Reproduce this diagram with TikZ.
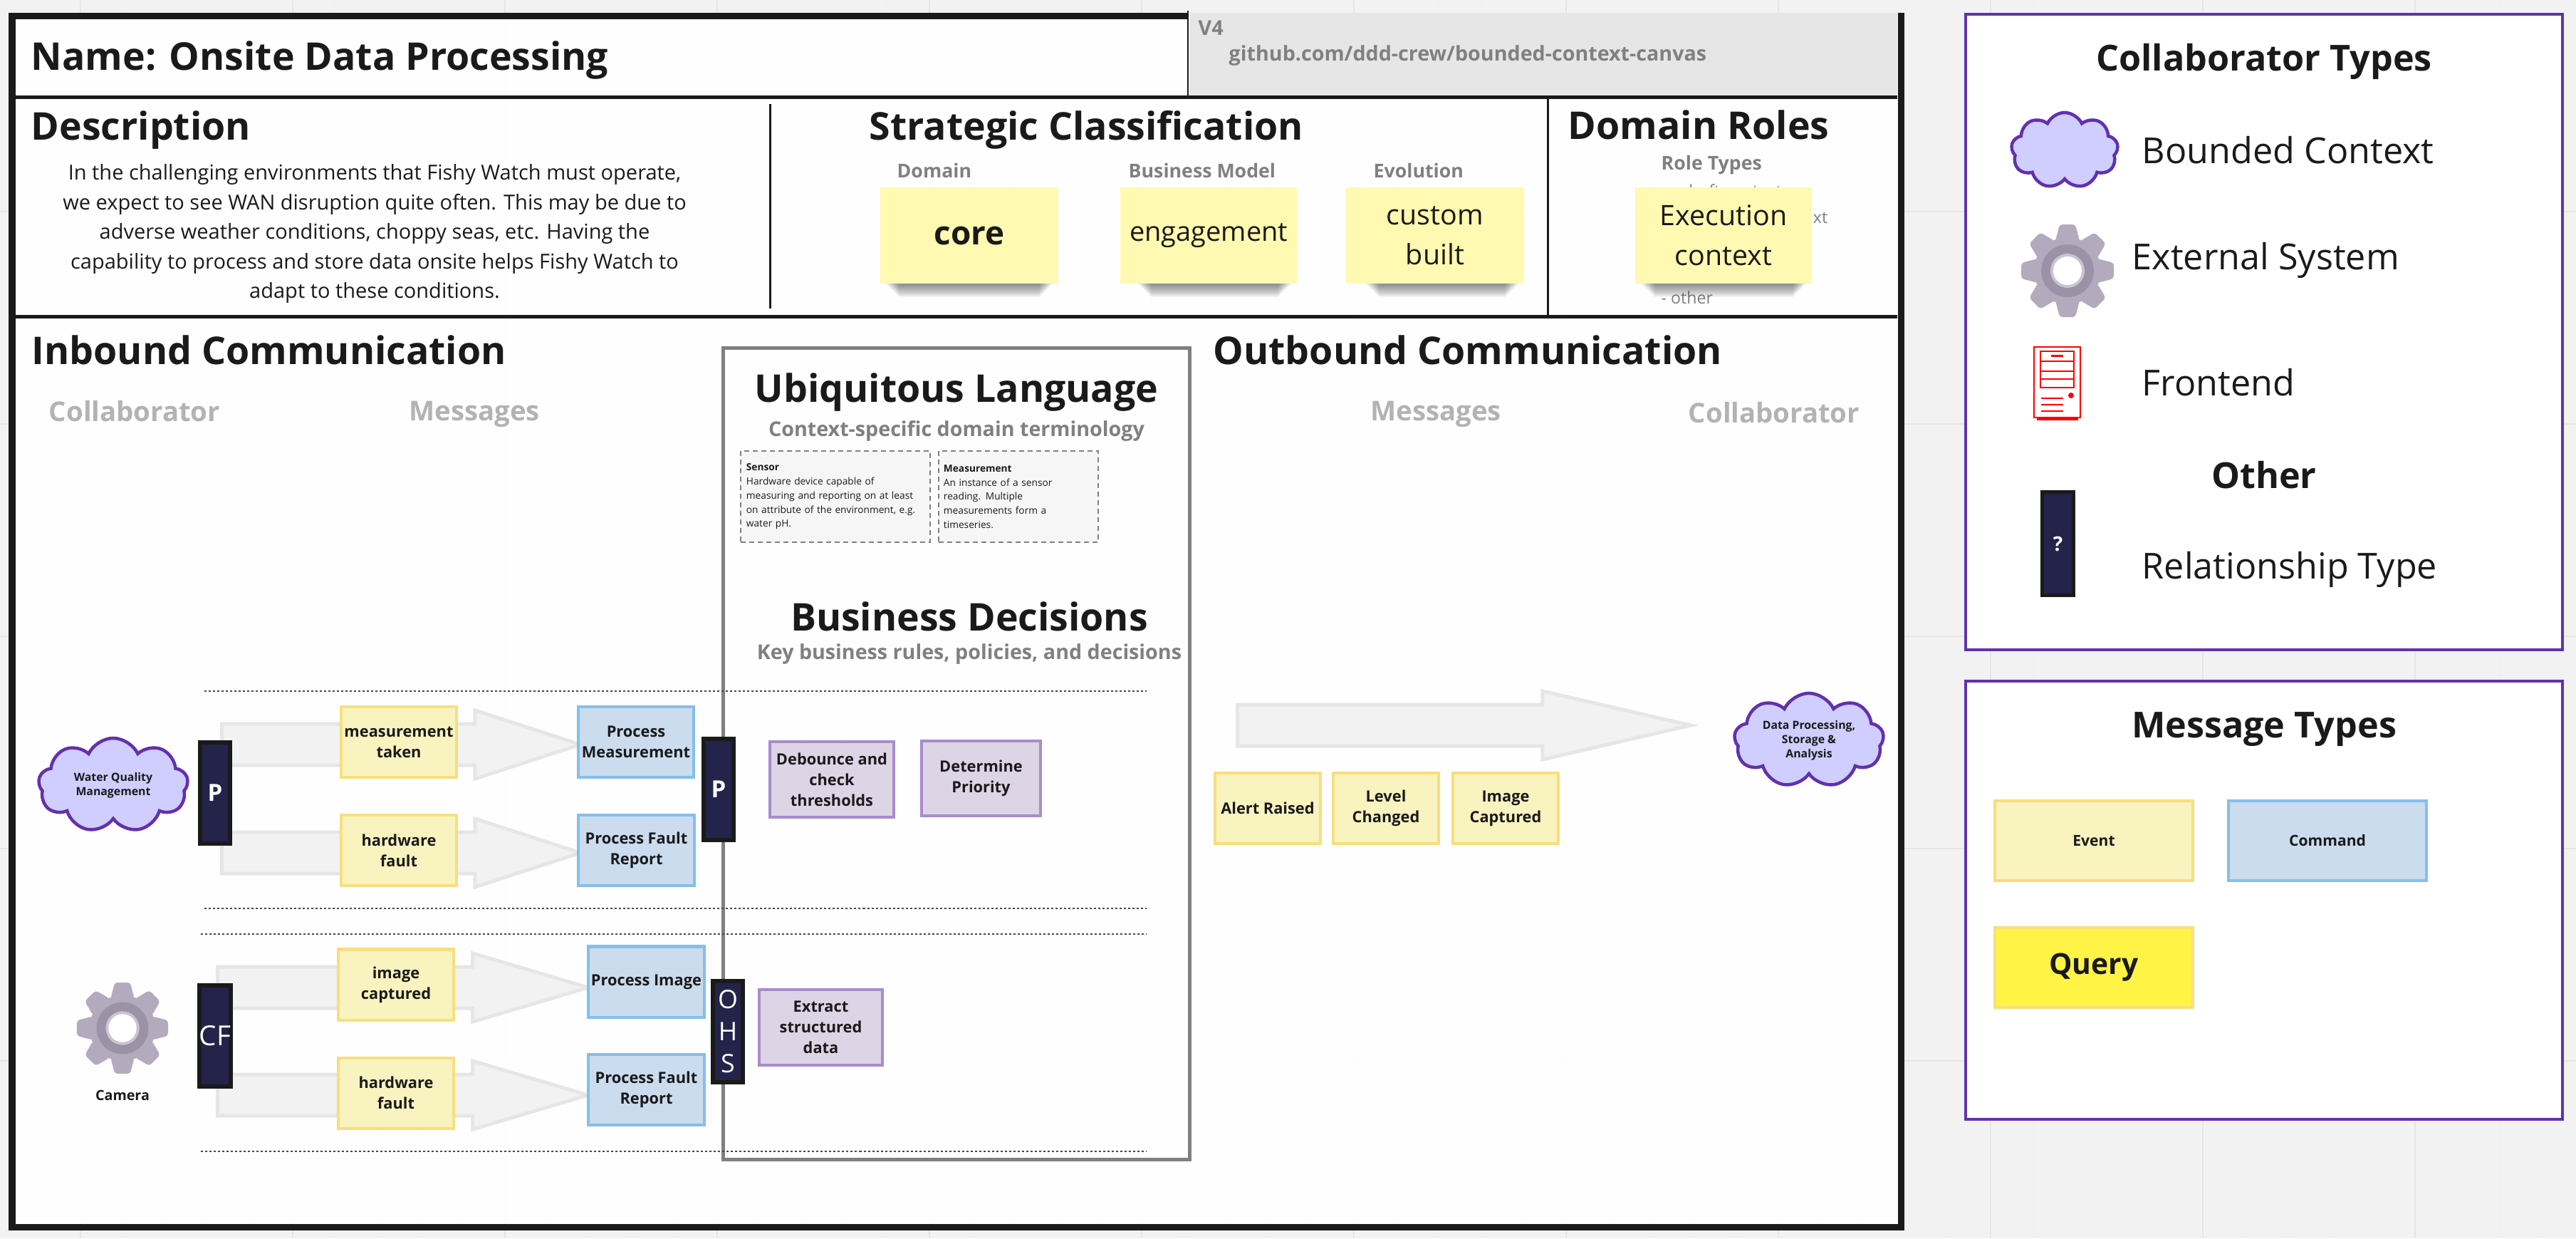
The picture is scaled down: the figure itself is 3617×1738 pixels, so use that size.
\documentclass[tikz,border=0pt]{standalone}
\usepackage{fontspec}
\setmainfont{Open Sans}
\usetikzlibrary{shapes.symbols,shapes.arrows}

\definecolor{inkblack}{HTML}{1A1A1A}
\definecolor{boardgray}{HTML}{F2F2F2}
\definecolor{gridgray}{HTML}{E6E6E6}
\definecolor{midgray}{HTML}{808080}
\definecolor{softgray}{HTML}{B3B3B3}
\definecolor{stickyyellow}{HTML}{FFF9B1}
\definecolor{eventfill}{HTML}{F9F3C0}
\definecolor{eventline}{HTML}{F9DE7C}
\definecolor{commandfill}{HTML}{CBDCEE}
\definecolor{commandline}{HTML}{86BEEA}
\definecolor{decisionfill}{HTML}{DDD4E6}
\definecolor{decisionline}{HTML}{A98BCB}
\definecolor{queryfill}{HTML}{FFF445}
\definecolor{tagnavy}{HTML}{24234A}
\definecolor{cloudfill}{HTML}{CFCEFF}
\definecolor{legendpurple}{HTML}{6231AE}
\definecolor{gearlight}{HTML}{B3ABBD}
\definecolor{geardark}{HTML}{9C92A8}

\tikzset{
    headtext/.style={anchor=west, inner sep=0pt, text=inkblack, font=\bfseries\fontsize{15.25}{18}\selectfont},
    subtext/.style={inner sep=0pt, text=midgray, font=\bfseries\fontsize{8.15}{10}\selectfont},
    labeltext/.style={anchor=west, inner sep=0pt, text=midgray, font=\bfseries\fontsize{7.6}{9}\selectfont},
    columntext/.style={inner sep=0pt, text=softgray, font=\bfseries\fontsize{10.9}{13}\selectfont},
    legendtext/.style={anchor=west, inner sep=0pt, text=inkblack, font=\fontsize{14.3}{18}\selectfont},
    legendhead/.style={inner sep=0pt, text=inkblack, font=\bfseries\fontsize{14.3}{17}\selectfont},
    hiddentext/.style={inner sep=0pt, text=midgray, font=\fontsize{6.6}{8}\selectfont},
    stickybox/.style={fill=stickyyellow, minimum height=1.35cm, inner sep=0pt, align=center, text=inkblack, font=\fontsize{11.2}{15.8}\selectfont},
    messagebox/.style={line width=.04cm, minimum width=1.62cm, minimum height=.99cm, inner sep=0pt, align=center, text=inkblack, font=\bfseries\fontsize{6.2}{8.2}\selectfont},
    eventbox/.style={messagebox, fill=eventfill, draw=eventline},
    commandbox/.style={messagebox, fill=commandfill, draw=commandline},
    decisionbox/.style={messagebox, fill=decisionfill, draw=decisionline},
    reltag/.style={fill=tagnavy, draw=inkblack, line width=.06cm, minimum width=.42cm, minimum height=1.42cm, inner sep=0pt, align=center, text=white},
    ctxcloud/.style={cloud, cloud puffs=9, cloud puff arc=130, draw=legendpurple, fill=cloudfill, line width=.045cm, minimum width=2.1cm, minimum height=1.32cm, aspect=1.58, inner sep=0pt},
    cloudtext/.style={align=center, text=inkblack, font=\bfseries\fontsize{4.5}{5.7}\selectfont},
    flowarrow/.style={single arrow, anchor=tail, fill=boardgray, draw=gridgray, line width=.05cm, inner xsep=0pt, inner ysep=.265cm, single arrow head extend=.19cm, single arrow tip angle=36},
    termbox/.style={fill=boardgray!70, draw=midgray, line width=.015cm, dash pattern=on .07cm off .05cm, minimum height=1.28cm, inner xsep=.065cm, inner ysep=0pt, align=left, text=inkblack, font=\fontsize{3.9}{5.6}\selectfont},
    legendframe/.style={fill=white, draw=legendpurple, line width=.045cm},
    framerule/.style={draw=inkblack},
    rowrule/.style={inkblack!80, line width=.015cm, dash pattern=on .03cm off .03cm},
    gearicon/.pic={
        \foreach \a in {0,45,...,315}
            \fill[gearlight, rotate=\a, rounded corners=.04cm] (-17,-42) -- (-11,-65) -- (11,-65) -- (17,-42) -- cycle;
        \fill[gearlight] (0,0) circle (47);
        \fill[geardark] (0,0) circle (37);
        \fill[gearlight!70] (0,0) circle (24);
        \fill[white] (0,0) circle (20);
    }
}

\begin{document}
\begin{tikzpicture}[x=.01cm, y=-.01cm]
    \useasboundingbox (0,0) rectangle (3617,1738);

    % board
    \fill[boardgray] (0,0) rectangle (3617,1738);
    \foreach \x in {113,411,...,3600} {
        \draw[gridgray!60, line width=.01cm] (\x+59.6,0) -- (\x+59.6,1738);
        \draw[gridgray!60, line width=.01cm] (\x+119.2,0) -- (\x+119.2,1738);
        \draw[gridgray!60, line width=.01cm] (\x+178.8,0) -- (\x+178.8,1738);
        \draw[gridgray!60, line width=.01cm] (\x+238.4,0) -- (\x+238.4,1738);
        \draw[gridgray, line width=.015cm] (\x,0) -- (\x,1738);
    }
    \foreach \y in {-1,297,...,1738}
        \draw[gridgray, line width=.015cm] (0,\y) -- (3617,\y);

    % canvas frame
    \fill[white, opacity=.93] (17,22) rectangle (2669,1722);
    \fill[gridgray] (1670,18) rectangle (2664,134);
    \draw[framerule, line width=.09cm] (1668,22) -- (17,22) -- (17,1722) -- (2669,1722) -- (2669,18);
    \draw[framerule, line width=.05cm] (12,136) -- (2664,136);
    \draw[framerule, line width=.05cm] (12,444) -- (2664,444);
    \draw[framerule, line width=.025cm] (1668,15) -- (1668,134);
    \draw[framerule, line width=.03cm] (1081,146) -- (1081,433);
    \draw[framerule, line width=.03cm] (2173,136) -- (2173,444);

    % heading row
    \node[headtext] (nameTitle) at (43,85) {Name: Onsite Data Processing};
    \node[subtext, anchor=west] (versionText) at (1682,39) {V4};
    \node[subtext, anchor=west] (repoText) at (1725,78) {github.com/ddd-crew/bounded-context-canvas};

    % description
    \node[headtext] (descTitle) at (43,183) {Description};
    \node[align=center, inner sep=0pt, text=inkblack, font=\fontsize{8.25}{11.8}\selectfont] (descText) at (526,328) {In the challenging environments that Fishy Watch must operate,\\we expect to see WAN disruption quite often. This may be due to\\adverse weather conditions, choppy seas, etc. Having the\\capability to process and store data onsite helps Fishy Watch to\\adapt to these conditions.};

    % strategic classification
    \node[headtext] (strategicTitle) at (1220,182) {Strategic Classification};
    \node[labeltext] (domainLabel) at (1259,239) {Domain};
    \node[labeltext] (modelLabel) at (1584,239) {Business Model};
    \node[labeltext] (evolutionLabel) at (1928,239) {Evolution};

    % domain roles
    \node[headtext] (rolesTitle) at (2201,175) {Domain Roles};
    \node[labeltext] (roleLabel) at (2332,232) {Role Types};
    \node[hiddentext, anchor=west] (roleDraft) at (2349,268) {- draft context};
    \node[hiddentext, anchor=east] (roleCut) at (2567,306) {xt};
    \node[hiddentext, anchor=west] (roleOther) at (2332,418) {- other};

    % sticky shadows
    \foreach \a/\b in {1236/1486,1590/1821,1910/2140,2297/2544}
        \foreach \k in {0,...,9}
            \fill[black, opacity=.055] (\a+8+2*\k,394) rectangle (\b-8-2*\k,399+2*\k);

    \node[stickybox, minimum width=2.5cm, font=\bfseries\fontsize{13}{16}\selectfont] (coreNote) at (1361,330.5) {core};
    \node[stickybox, minimum width=2.48cm, font=\fontsize{10.8}{15}\selectfont, text depth=.1cm] (modelNote) at (1697,330.5) {engagement};
    \node[stickybox, minimum width=2.49cm] (evolutionNote) at (2015,330.5) {custom\\built};
    \node[stickybox, minimum width=2.47cm] (roleNote) at (2420,330.5) {Execution\\context};

    % inbound and outbound headings
    \node[headtext] (inboundTitle) at (44,491) {Inbound Communication};
    \node[headtext] (outboundTitle) at (1703,491) {Outbound Communication};
    \node[columntext] (collabIn) at (189,577) {Collaborator};
    \node[columntext] (messagesIn) at (666,581) {Messages};
    \node[columntext] (messagesOut) at (2016,581) {Messages};
    \node[columntext] (collabOut) at (2491,579) {Collaborator};

    % language and decisions box
    \draw[midgray, line width=.05cm] (1015,488) rectangle (1670,1627);
    \node[headtext, anchor=center] (languageTitle) at (1343,551) {Ubiquitous Language};
    \node[subtext] (languageSub) at (1343,605) {Context-specific domain terminology};
    \node[termbox, minimum width=2.66cm, text width=2.5cm] (sensorTerm) at (1173,697) {{\bfseries Sensor}\\Hardware device capable of\\measuring and reporting on at least\\on attribute of the environment, e.g.\\water pH.};
    \node[termbox, minimum width=2.24cm, text width=2.1cm] (measureTerm) at (1430,697) {{\bfseries Measurement}\\An instance of a sensor\\reading. Multiple\\measurements form a\\timeseries.};
    \node[headtext, anchor=center] (decisionTitle) at (1361,865) {Business Decisions};
    \node[subtext] (decisionSub) at (1361,918) {Key business rules, policies, and decisions};

    % row separators
    \draw[rowrule] (287,970) -- (1610,970);
    \draw[rowrule] (287,1275) -- (1610,1275);
    \draw[rowrule] (282,1311) -- (1610,1311);
    \draw[rowrule] (282,1616) -- (1610,1616);

    % message arrows
    \node[flowarrow, minimum height=5.03cm] (flowMeasure) at (309,1045) {};
    \node[flowarrow, minimum height=5.03cm] (flowFaultA) at (309,1197) {};
    \node[flowarrow, minimum height=5.2cm, single arrow tip angle=33] (flowImage) at (303,1386) {};
    \node[flowarrow, minimum height=5.2cm, single arrow tip angle=33] (flowFaultB) at (303,1537) {};
    \node[flowarrow, minimum height=6.36cm, single arrow tip angle=26] (flowOut) at (1735,1018) {};

    % water quality row
    \node[ctxcloud, label={[cloudtext]center:Water Quality\\Management}] (waterCloud) at (159,1102) {};
    \node[reltag, font=\bfseries\fontsize{9.4}{11}\selectfont] (tagSupplier) at (302,1113) {P};
    \node[eventbox] (measureEvent) at (560,1041.5) {measurement\\taken};
    \node[eventbox] (faultEventA) at (560,1193.5) {hardware\\fault};
    \node[commandbox] (measureCommand) at (893,1041.5) {Process\\Measurement};
    \node[commandbox] (faultCommandA) at (893.5,1193.5) {Process Fault\\Report};
    \node[reltag, font=\bfseries\fontsize{9.4}{11}\selectfont] (tagPublish) at (1009,1108) {P};
    \node[decisionbox, minimum width=1.73cm, minimum height=1.06cm] (debounceRule) at (1168,1094) {Debounce and\\check\\thresholds};
    \node[decisionbox, minimum width=1.67cm, minimum height=1.05cm] (priorityRule) at (1377.5,1092.5) {Determine\\Priority};

    % camera row
    \pic[scale=.985] (cameraGear) at (172,1443) {gearicon};
    \node[text=inkblack, font=\bfseries\fontsize{5.6}{7}\selectfont] (cameraText) at (172,1537) {Camera};
    \node[reltag, font=\fontsize{11}{13}\selectfont] (tagConform) at (302,1454) {CF};
    \node[eventbox] (imageEvent) at (556,1382) {image\\captured};
    \node[eventbox] (faultEventB) at (556,1534) {hardware\\fault};
    \node[commandbox] (imageCommand) at (907.5,1378) {Process Image};
    \node[commandbox] (faultCommandB) at (907.5,1529.5) {Process Fault\\Report};
    \node[reltag, font=\fontsize{10.2}{12.8}\selectfont] (tagHost) at (1022,1448) {O\\H\\S};
    \node[decisionbox, minimum width=1.73cm, minimum height=1.06cm] (extractRule) at (1152.5,1442) {Extract\\structured\\data};

    % outbound row
    \node[eventbox, minimum width=1.48cm] (alertEvent) at (1780,1134.5) {Alert Raised};
    \node[eventbox, minimum width=1.48cm] (levelEvent) at (1946,1134.5) {Level\\Changed};
    \node[eventbox, minimum width=1.48cm] (capturedEvent) at (2114,1134.5) {Image\\Captured};
    \node[ctxcloud, label={[cloudtext]center:Data Processing,\\Storage \&\\Analysis}] (dataCloud) at (2540,1039) {};

    % collaborator legend
    \draw[legendframe] (2760,20) rectangle (3598,912);
    \node[legendhead] (collabLegend) at (3179,86) {Collaborator Types};
    \node[ctxcloud, minimum width=1.5cm, minimum height=1.06cm, aspect=1.4] (legendCloud) at (2899,211) {};
    \node[legendtext] (boundedText) at (3007,211) {Bounded Context};
    \pic (legendGear) at (2903,380) {gearicon};
    \node[legendtext] (externalText) at (2993,365) {External System};
    \draw[red, line width=.012cm] (2856,487) rectangle (2921,586);
    \fill[red] (2860,585) rectangle (2918,590);
    \draw[red, line width=.012cm] (2865,493) rectangle (2912,544);
    \draw[red, line width=.012cm] (2865,507) -- (2912,507) (2865,521) -- (2912,521) (2865,532) -- (2912,532);
    \fill[red] (2880,498) rectangle (2897,501);
    \fill[red] (2908,555) circle (4);
    \draw[red, line width=.012cm] (2866,559) -- (2897,559) (2866,568) -- (2897,568) (2866,577) -- (2897,577);
    \node[legendtext] (frontendText) at (3007,537) {Frontend};
    \node[legendhead] (otherLegend) at (3179,667) {Other};
    \node[reltag, line width=.05cm, minimum width=.44cm, minimum height=1.44cm, font=\bfseries\fontsize{8}{10}\selectfont] (tagLegend) at (2889.5,763) {?};
    \node[legendtext] (relationText) at (3007,799) {Relationship Type};

    % message legend
    \draw[legendframe] (2760,956) rectangle (3598,1571);
    \node[legendhead] (messageLegend) at (3179,1024) {Message Types};
    \node[eventbox, minimum width=2.78cm, minimum height=1.12cm, font=\bfseries\fontsize{6}{8}\selectfont] (eventKey) at (2940,1180) {Event};
    \node[commandbox, minimum width=2.78cm, minimum height=1.12cm, font=\bfseries\fontsize{6}{8}\selectfont] (commandKey) at (3268,1180) {Command};
    \node[eventbox, fill=queryfill, minimum width=2.78cm, minimum height=1.12cm, font=\bfseries\fontsize{11.6}{14}\selectfont, yshift=-.03cm] (queryKey) at (2940,1355) {Query};
\end{tikzpicture}
\end{document}
